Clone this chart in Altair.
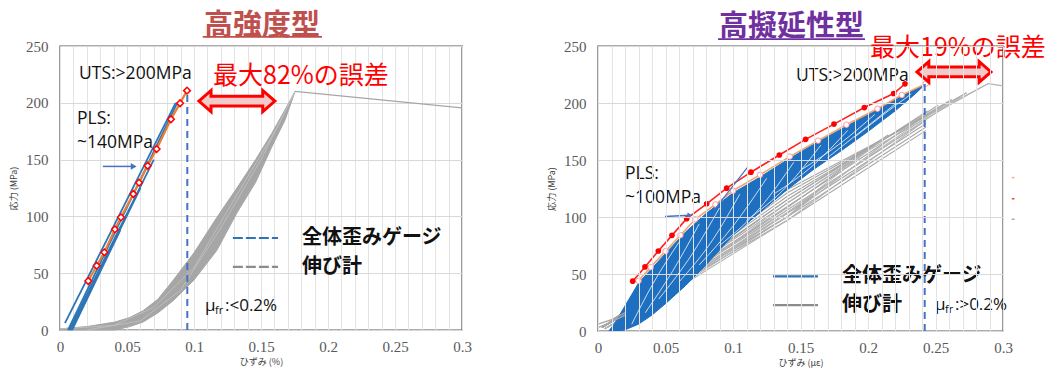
import altair as alt
import pandas as pd

FONT_JP = "Noto Sans CJK JP"
FONT_LAT = "Open Sans"
FONT_NUM = "Liberation Serif"

X_TICKS = [round(i * 0.01, 2) for i in range(31)]
Y_TICKS = [0, 50, 100, 150, 200, 250]

# ---------------- left panel (高強度型) ----------------
L_BAND_X = [0.0, 0.02, 0.041, 0.052, 0.062, 0.073, 0.0846, 0.1, 0.117, 0.132, 0.146, 0.158, 0.168, 0.1754]
L_BAND_UP = [1, 3, 7, 11, 17, 27, 44, 68, 99, 125, 150, 173, 194, 210]
L_BAND_LO = [0, 0, 0, 3, 7, 15, 26, 44, 70, 103, 130, 161, 185, 210]
L_BAND_LINES = [
    [(0.0, 1), (0.04, 4), (0.07, 20), (0.1, 55), (0.13, 115), (0.163, 180), (0.1754, 210)],
    [(0.02, 0), (0.06, 8), (0.09, 35), (0.12, 90), (0.15, 150), (0.1754, 210)],
]
L_TAIL = [(0.1754, 210), (0.3, 195.5)]
L_BLUE = [
    [(0.0037, 6), (0.0863, 200)],
    [(0.006, 0), (0.0875, 200)],
    [(0.007, 0), (0.070, 150)],
    [(0.008, 0), (0.060, 125)],
    [(0.0075, 0), (0.050, 102)],
    [(0.009, 0), (0.045, 88)],
]
L_OR_X = [0.0211, 0.0274, 0.0331, 0.0410, 0.0455, 0.0547, 0.0590, 0.0654, 0.0721, 0.0828, 0.0896, 0.0948]
L_OR_Y = [43.1, 56.6, 68.4, 88.6, 99.2, 119.7, 129.7, 144.6, 159.3, 185.5, 199.6, 210.7]
L_DASH_X, L_DASH_Y = 0.095, 210
L_ARROW = [(0.032, 144), (0.055, 144)]

# ---------------- right panel (高擬延性型) ----------------
R_BLUE_X = [0.008, 0.012, 0.016, 0.02, 0.03, 0.04, 0.05, 0.065, 0.08, 0.1, 0.12, 0.14, 0.16, 0.18, 0.2, 0.22, 0.235, 0.242]
R_BLUE_UP = [0, 6, 14, 22, 42, 55, 68, 87, 103, 121, 135, 150, 164, 177, 190, 203, 212, 216]
R_BLUE_LO = [0, 0, 0, 1, 6, 14, 24, 40, 58, 84, 104, 124, 142, 158, 175, 193, 208, 216]
R_WHITE = [
    [(0.025, 6), (0.04, 40), (0.06, 78)],
    [(0.035, 16), (0.055, 52), (0.075, 94)],
    [(0.045, 28), (0.07, 68), (0.09, 108)],
    [(0.06, 43), (0.085, 80), (0.105, 120)],
    [(0.075, 58), (0.1, 92), (0.125, 134)],
    [(0.09, 75), (0.12, 108), (0.145, 148)],
    [(0.11, 97), (0.14, 127), (0.165, 163)],
    [(0.13, 120), (0.16, 146), (0.185, 176)],
    [(0.15, 141), (0.18, 165), (0.205, 190)],
    [(0.17, 152), (0.2, 180), (0.22, 199)],
    [(0.19, 170), (0.215, 193), (0.232, 208)],
]
R_GRAY_LOAD = [
    [(0.003, 3), (0.05, 44), (0.14, 124), (0.289, 217)],
    [(0.003, 3), (0.05, 43), (0.14, 121), (0.273, 209)],
    [(0.003, 3), (0.05, 42), (0.14, 118), (0.262, 203)],
    [(0.003, 3), (0.05, 41), (0.14, 115), (0.252, 198)],
    [(0.003, 3), (0.05, 40), (0.14, 112), (0.244, 193)],
    [(0.003, 3), (0.05, 39), (0.14, 109), (0.243, 189)],
    [(0.003, 3), (0.05, 38), (0.14, 106), (0.243, 185)],
    [(0.003, 3), (0.05, 37), (0.14, 103), (0.243, 182)],
    [(0.003, 3), (0.05, 36), (0.14, 100), (0.243, 179)],
    [(0.003, 3), (0.05, 35), (0.14, 97), (0.243, 176)],
    [(0.003, 3), (0.05, 40), (0.14, 115), (0.215, 172)],
    [(0.003, 3), (0.05, 38), (0.14, 108), (0.19, 150)],
    [(0.003, 3), (0.05, 36), (0.14, 100), (0.165, 125)],
    [(0.003, 3), (0.05, 40), (0.12, 98)],
    [(0.003, 3), (0.05, 40), (0.09, 74)],
]
R_GRAY_UNLOAD = [
    [(0.289, 217), (0.2, 158), (0.14, 112), (0.05, 34), (0.005, 2)],
    [(0.273, 209), (0.2, 152), (0.14, 106), (0.05, 33), (0.005, 2)],
    [(0.262, 203), (0.14, 104), (0.05, 33), (0.005, 2)],
    [(0.244, 193), (0.14, 100), (0.05, 32), (0.005, 2)],
    [(0.243, 185), (0.14, 97), (0.05, 31), (0.005, 2)],
    [(0.215, 172), (0.14, 103), (0.05, 33), (0.005, 2)],
    [(0.289, 217), (0.3, 215)],
]
R_GRAY_FOOT = [
    [(0.0, 3), (0.01, 8), (0.02, 14)],
    [(0.0, 6), (0.01, 10), (0.02, 16)],
]
R_OR_X = [0.030, 0.039, 0.050, 0.061, 0.072, 0.087, 0.100, 0.120, 0.142, 0.163, 0.184, 0.207, 0.225, 0.2428]
R_OR_Y = [44, 56, 70, 84, 98, 111, 123, 137, 153, 167, 181, 195, 207, 217]
R_RED_X = [0.0257, 0.0348, 0.0447, 0.0548, 0.0657, 0.0805, 0.0953, 0.1133, 0.1343, 0.1538, 0.1748, 0.1973, 0.2190, 0.2274]
R_RED_Y = [43.7, 56.2, 70.2, 83.9, 98.5, 111.6, 125.3, 139.3, 154.4, 168.1, 181.5, 196.0, 208.3, 216.8]
R_DASH_X, R_DASH_Y = 0.242, 217
R_ARROW = [(0.0496, 100.5), (0.068, 101.5)]
R_TANGENT = [(0.086, 106), (0.111, 144)]
R_STUBS_Y = [134.6, 116.0, 98.0]
R_STUBS_C = ["#f4b183", "#ff4040", "#a6a6a6"]

BLUE = "#2e75b6"
GRAY = "#a6a6a6"
ARROW_PATH = ("M -1 0 L -0.68 -0.28 L -0.68 -0.13 L 0.68 -0.13 L 0.68 -0.28 L 1 0 "
              "L 0.68 0.28 L 0.68 0.13 L -0.68 0.13 L -0.68 0.28 Z")


def lines_df(lines):
    rows = []
    for i, ln in enumerate(lines):
        for j, (x, y) in enumerate(ln):
            rows.append({"id": i, "o": j, "x": x, "y": y})
    return pd.DataFrame(rows)


def make_enc(xtitle, ytitle, on_top):
    xa = alt.Axis(values=X_TICKS, title=xtitle, grid=True, gridColor="#e3e3e3", gridWidth=1,
                  labelExpr="round(datum.value*100) % 5 == 0 ? toString(round(datum.value*100)/100) : ''",
                  labelPadding=9, titlePadding=3, zindex=1 if on_top else 0, labelFlush=False)
    ya = alt.Axis(values=Y_TICKS, title=ytitle, grid=True, gridColor="#d9d9d9", gridWidth=1,
                  labelPadding=12, titlePadding=7, zindex=1 if on_top else 0)
    X = lambda f="x": alt.X(f + ":Q", scale=alt.Scale(domain=[0, 0.3], nice=False, zero=False), axis=xa)
    Y = lambda f="y": alt.Y(f + ":Q", scale=alt.Scale(domain=[0, 250], nice=False, zero=False), axis=ya)
    return X, Y


def text_layer(X, Y, items, **kw):
    df = pd.DataFrame([{"x": a, "y": b, "t": t} for a, b, t in items])
    return alt.Chart(df).mark_text(**kw).encode(x=X(), y=Y(), text="t:N")


def common(X, Y, title, tcolor, tpos, uline, uts, pls, plsv, err, arrow_c, mu_pos, mu_txt,
           leg_x, leg_x2, leg_tx, leg_y, leg_dash, dash_x, dash_y):
    layers = []
    layers.append(text_layer(X, Y, [(tpos[0], tpos[1], title)], font=FONT_JP, fontSize=29,
                             fontWeight="bold", color=tcolor, align="center", baseline="middle"))
    layers.append(alt.Chart(pd.DataFrame([{"x": uline[0], "x2": uline[1], "y": uline[2]}]))
                  .mark_rule(color=tcolor, strokeWidth=1.6).encode(x=X(), x2="x2:Q", y=Y()))
    layers.append(alt.Chart(pd.DataFrame([{"x": dash_x, "y": 0, "y2": dash_y}]))
                  .mark_rule(color="#4472c4", strokeWidth=2, strokeDash=[7, 5])
                  .encode(x=X(), y=Y(), y2="y2:Q"))
    layers.append(text_layer(X, Y, [uts, pls, plsv], font=FONT_LAT, fontSize=17.5, color="#111111",
                             align="left", baseline="middle"))
    layers.append(text_layer(X, Y, [err], font=FONT_JP, fontSize=25, color="#ff0000",
                             align="left", baseline="middle"))
    layers.append(alt.Chart(pd.DataFrame([{"x": arrow_c[0], "y": arrow_c[1]}]))
                  .mark_point(shape=ARROW_PATH, size=arrow_c[2] ** 2, filled=True, fill="#f3caca",
                              stroke="#ff0000", strokeWidth=3, opacity=1)
                  .encode(x=X(), y=Y()))
    layers.append(text_layer(X, Y, [(mu_pos[0], mu_pos[1], "μ")], font=FONT_LAT, fontSize=17,
                             color="#111111", align="left", baseline="middle"))
    layers.append(text_layer(X, Y, [(mu_pos[0], mu_pos[1], "fr")], font=FONT_LAT, fontSize=11,
                             color="#111111", align="left", baseline="middle", dx=10, dy=5))
    layers.append(text_layer(X, Y, [(mu_pos[0], mu_pos[1], mu_txt)], font=FONT_LAT, fontSize=17,
                             color="#111111", align="left", baseline="middle", dx=20))
    leg = pd.DataFrame([{"x": leg_x, "x2": leg_x2, "y": leg_y[0], "c": BLUE},
                        {"x": leg_x, "x2": leg_x2, "y": leg_y[1], "c": "#8c8c8c"}])
    rule_kw = dict(strokeWidth=2.2)
    if leg_dash:
        rule_kw["strokeDash"] = [10, 3]
    layers.append(alt.Chart(leg).mark_rule(**rule_kw)
                  .encode(x=X(), x2="x2:Q", y=Y(), color=alt.Color("c:N", scale=None)))
    layers.append(text_layer(X, Y, [(leg_tx, leg_y[0], "全体歪みゲージ"), (leg_tx, leg_y[1], "伸び計")],
                             font=FONT_JP, fontSize=20, fontWeight="bold", color="#111111",
                             align="left", baseline="middle"))
    return layers


# ---------- left chart ----------
XL, YL = make_enc("ひずみ (%)", "応力 (MPa)", False)
band = pd.DataFrame({"x": L_BAND_X, "y": L_BAND_UP, "y2": L_BAND_LO})
left_layers = [
    alt.Chart(band).mark_area(orient="vertical", color=GRAY, stroke=GRAY, strokeWidth=1, opacity=1)
    .encode(x=XL(), y=YL(), y2="y2:Q"),
    alt.Chart(lines_df(L_BAND_LINES)).mark_line(color="#bdbdbd", strokeWidth=1)
    .encode(x=XL(), y=YL(), detail="id:N", order="o:Q"),
    alt.Chart(lines_df([L_TAIL])).mark_line(color=GRAY, strokeWidth=1.2)
    .encode(x=XL(), y=YL(), detail="id:N", order="o:Q"),
    alt.Chart(lines_df(L_BLUE)).mark_line(color=BLUE, strokeWidth=1.8)
    .encode(x=XL(), y=YL(), detail="id:N", order="o:Q"),
    alt.Chart(pd.DataFrame({"x": L_OR_X, "y": L_OR_Y})).mark_line(color="#ed7d31", strokeWidth=2.2)
    .encode(x=XL(), y=YL()),
    alt.Chart(pd.DataFrame({"x": L_OR_X, "y": L_OR_Y}))
    .mark_point(shape="diamond", size=45, filled=True, fill="white", stroke="#ff0000", strokeWidth=1.5, opacity=1)
    .encode(x=XL(), y=YL()),
    alt.Chart(lines_df([L_ARROW])).mark_line(color="#4472c4", strokeWidth=1.5)
    .encode(x=XL(), y=YL(), order="o:Q"),
    alt.Chart(pd.DataFrame([{"x": L_ARROW[1][0], "y": L_ARROW[1][1]}]))
    .mark_point(shape="triangle-right", size=45, filled=True, color="#4472c4", opacity=1)
    .encode(x=XL(), y=YL()),
]
left_layers += common(
    XL, YL, "高強度型", "#c0504d", (0.1507, 268), (0.1065, 0.1955, 258),
    (0.0142, 225.4, "UTS:>200MPa"), (0.0127, 185.7, "PLS:"), (0.0127, 164.6, "~140MPa"),
    (0.1142, 223.6, "最大82%の誤差"), (0.1320, 201.5, 76), (0.1082, 21.5), ":<0.2%",
    0.129, 0.1627, 0.1806, (81, 55.5), True, L_DASH_X, L_DASH_Y)
left = alt.layer(*left_layers).properties(width=402, height=284)

# ---------- right chart ----------
XR, YR = make_enc("ひずみ (με)", "応力 (MPa)", True)
rblue = pd.DataFrame({"x": R_BLUE_X, "y": R_BLUE_UP, "y2": R_BLUE_LO})
stubs = pd.DataFrame({"x": [0.3065] * 3, "x2": [0.3085] * 3, "y": R_STUBS_Y, "c": R_STUBS_C})
right_layers = [
    alt.Chart(lines_df(R_GRAY_LOAD)).mark_line(color=GRAY, strokeWidth=1.1)
    .encode(x=XR(), y=YR(), detail="id:N", order="o:Q"),
    alt.Chart(lines_df(R_GRAY_UNLOAD)).mark_line(color="#b4b4b4", strokeWidth=1.1)
    .encode(x=XR(), y=YR(), detail="id:N", order="o:Q"),
    alt.Chart(rblue).mark_area(orient="vertical", color="#1f6fc0", stroke="#1f6fc0", strokeWidth=1, opacity=1)
    .encode(x=XR(), y=YR(), y2="y2:Q"),
    alt.Chart(lines_df(R_WHITE)).mark_line(color="white", strokeWidth=0.9, opacity=0.85, interpolate="monotone")
    .encode(x=XR(), y=YR(), detail="id:N", order="o:Q"),
    alt.Chart(lines_df(R_GRAY_FOOT)).mark_line(color=GRAY, strokeWidth=1.4)
    .encode(x=XR(), y=YR(), detail="id:N", order="o:Q"),
    alt.Chart(pd.DataFrame({"x": R_OR_X, "y": R_OR_Y})).mark_line(color="#f4a46a", strokeWidth=1.6)
    .encode(x=XR(), y=YR()),
    alt.Chart(pd.DataFrame({"x": R_OR_X, "y": R_OR_Y}))
    .mark_point(shape="circle", size=30, filled=True, fill="white", stroke="#ff9a9a", strokeWidth=1, opacity=1)
    .encode(x=XR(), y=YR()),
    alt.Chart(pd.DataFrame({"x": R_RED_X, "y": R_RED_Y})).mark_line(color="#ff2020", strokeWidth=1.6)
    .encode(x=XR(), y=YR()),
    alt.Chart(pd.DataFrame({"x": R_RED_X, "y": R_RED_Y}))
    .mark_point(shape="circle", size=32, filled=True, color="#ff0000", opacity=1)
    .encode(x=XR(), y=YR()),
    alt.Chart(lines_df([R_TANGENT])).mark_line(color="#4472c4", strokeWidth=1.2)
    .encode(x=XR(), y=YR(), order="o:Q"),
    alt.Chart(lines_df([R_ARROW])).mark_line(color="#4472c4", strokeWidth=1.5)
    .encode(x=XR(), y=YR(), order="o:Q"),
    alt.Chart(pd.DataFrame([{"x": R_ARROW[1][0], "y": R_ARROW[1][1]}]))
    .mark_point(shape="triangle-right", size=30, filled=True, color="#4472c4", opacity=1)
    .encode(x=XR(), y=YR()),
    alt.Chart(stubs).mark_rule(strokeWidth=1.5)
    .encode(x=XR(), x2="x2:Q", y=YR(), color=alt.Color("c:N", scale=None)),
]
right_layers += common(
    XR, YR, "高擬延性型", "#7030a0", (0.1433, 267), (0.0889, 0.1978, 256),
    (0.1467, 223.8, "UTS:>200MPa"), (0.020, 138, "PLS:"), (0.020, 116.3, "~100MPa"),
    (0.2015, 248.3, "最大19%の誤差"), (0.2637, 227.3, 74), (0.2496, 22.7), ":>0.2%",
    0.1296, 0.163, 0.1807, (48, 22.7), False, R_DASH_X, R_DASH_Y)
right = alt.layer(*right_layers).properties(width=405, height=285)

chart = (
    alt.hconcat(left, right, spacing=136, bounds="flush")
    .properties(autosize=alt.AutoSizeParams(type="none"),
                padding={"left": 60, "top": 46, "right": 997, "bottom": 323},
                background="white")
    .configure_view(stroke="#595959", strokeWidth=1.4)
    .configure_axis(domain=False, ticks=False, labelFont=FONT_NUM, labelFontSize=15,
                    labelColor="#595959", titleFont=FONT_JP, titleFontSize=9,
                    titleColor="#404040", titleFontWeight="normal")
)

chart.save("out.html", embed_options={"renderer": "svg", "actions": False})
